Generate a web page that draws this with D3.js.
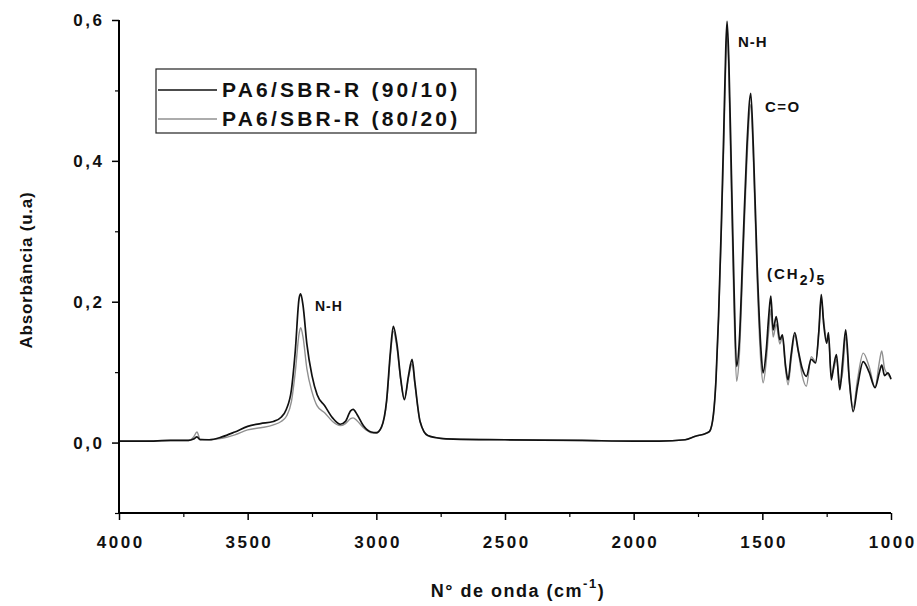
<!DOCTYPE html>
<html>
<head>
<meta charset="utf-8">
<script src="https://cdn.jsdelivr.net/npm/d3@7"></script>
<style>
  html, body { margin: 0; padding: 0; background: #fff; }
  svg text { font-family: "Liberation Sans", Arial, sans-serif; font-weight: bold; fill: #111; }
</style>
</head>
<body>
<svg id="chart" width="917" height="606"></svg>
<script>
// FTIR spectra of PA6/SBR-R blends (wavenumber in cm-1, absorbance in u.a.)
const wavenumber = [
  4000, 3900, 3800, 3730, 3710, 3697, 3685, 3650, 3600, 3550, 3500, 3450, 3400, 3370, 3350,
  3330, 3315, 3300, 3294, 3285, 3270, 3250, 3230, 3200, 3170, 3140, 3120, 3100, 3090, 3075,
  3050, 3020, 3000, 2980, 2960, 2945, 2934, 2920, 2905, 2891, 2875, 2861, 2850, 2830, 2800,
  2750, 2700, 2500, 2200, 2000, 1900, 1800, 1760, 1720, 1705, 1690, 1680, 1670, 1660, 1650,
  1642, 1637, 1630, 1620, 1610, 1600, 1590, 1575, 1560, 1545, 1535, 1520, 1505, 1497, 1485,
  1475, 1467, 1458, 1446, 1432, 1422, 1410, 1400, 1388, 1374, 1360, 1345, 1329, 1310, 1293,
  1280, 1271, 1262, 1250, 1243, 1232, 1222, 1212, 1199, 1188, 1176, 1162, 1147, 1130, 1108,
  1085, 1062, 1045, 1036, 1025, 1012, 1000
];

const absorb9010 = [
  0.002, 0.002, 0.003, 0.003, 0.005, 0.008, 0.004, 0.004, 0.008, 0.015, 0.023, 0.027, 0.030, 0.036, 0.047,
  0.075, 0.130, 0.205, 0.211, 0.195, 0.140, 0.095, 0.068, 0.052, 0.035, 0.026, 0.030, 0.045, 0.047, 0.040,
  0.024, 0.015, 0.014, 0.022, 0.060, 0.130, 0.165, 0.140, 0.090, 0.061, 0.095, 0.118, 0.085, 0.030, 0.010,
  0.006, 0.005, 0.004, 0.003, 0.002, 0.002, 0.004, 0.009, 0.013, 0.016, 0.040, 0.090, 0.180, 0.300, 0.440,
  0.560, 0.598, 0.540, 0.380, 0.220, 0.108, 0.140, 0.280, 0.420, 0.496, 0.420, 0.250, 0.130, 0.099, 0.130,
  0.180, 0.208, 0.160, 0.179, 0.146, 0.153, 0.110, 0.089, 0.125, 0.156, 0.130, 0.105, 0.094, 0.118, 0.113,
  0.160, 0.210, 0.170, 0.141, 0.156, 0.089, 0.110, 0.125, 0.075, 0.115, 0.160, 0.090, 0.044, 0.080, 0.115,
  0.100, 0.078, 0.100, 0.110, 0.095, 0.099, 0.090
];

const absorb8020 = [
  0.002, 0.002, 0.003, 0.003, 0.008, 0.015, 0.005, 0.004, 0.006, 0.011, 0.018, 0.021, 0.025, 0.030, 0.037,
  0.058, 0.100, 0.155, 0.163, 0.150, 0.105, 0.072, 0.052, 0.042, 0.030, 0.024, 0.027, 0.034, 0.035, 0.031,
  0.021, 0.014, 0.013, 0.022, 0.058, 0.125, 0.158, 0.135, 0.088, 0.062, 0.092, 0.112, 0.082, 0.030, 0.010,
  0.006, 0.005, 0.004, 0.003, 0.002, 0.002, 0.004, 0.009, 0.013, 0.016, 0.040, 0.090, 0.175, 0.290, 0.420,
  0.540, 0.585, 0.520, 0.350, 0.190, 0.087, 0.120, 0.260, 0.400, 0.480, 0.405, 0.230, 0.110, 0.085, 0.115,
  0.160, 0.189, 0.150, 0.168, 0.140, 0.150, 0.105, 0.082, 0.118, 0.152, 0.128, 0.095, 0.080, 0.122, 0.115,
  0.160, 0.205, 0.175, 0.146, 0.150, 0.095, 0.105, 0.118, 0.085, 0.100, 0.150, 0.085, 0.050, 0.090, 0.127,
  0.108, 0.078, 0.115, 0.130, 0.105, 0.097, 0.092
];

const seriesNames = ["PA6/SBR-R (90/10)", "PA6/SBR-R (80/20)"];
const seriesColors = ["#111111", "#909090"];

const xTicks = [4000, 3500, 3000, 2500, 2000, 1500, 1000];
const xMinorTicks = [3750, 3250, 2750, 2250, 1750, 1250];
const yTicks = [0.0, 0.2, 0.4, 0.6];
const yMinorTicks = [-0.1, 0.1, 0.3, 0.5];

const svg = d3.select("#chart");
const plot = { left: 119, right: 891, top: 20, bottom: 513 };

const x = d3.scaleLinear().domain([4000, 1000]).range([plot.left, plot.right]);
const y = d3.scaleLinear().domain([-0.1, 0.6]).range([plot.bottom, plot.top]);

const fmt = d => d3.format(".1f")(d).replace(".", ",");

// Spectra: 80/20 first, 90/10 on top
const series = [absorb8020, absorb9010];
const colors = [seriesColors[1], seriesColors[0]];
const widths = [1.4, 1.7];
const line = d3.line().x(d => x(d[0])).y(d => y(d[1])).curve(d3.curveMonotoneX);
series.forEach((vals, i) => {
  svg.append("path")
    .datum(wavenumber.map((w, k) => [w, vals[k]]))
    .attr("d", line)
    .attr("fill", "none")
    .attr("stroke", colors[i])
    .attr("stroke-width", widths[i])
    .attr("stroke-linejoin", "round");
});

// Axes
const xAxis = d3.axisBottom(x).tickValues(xTicks).tickFormat(d3.format("d")).tickSize(7).tickPadding(16);
const gx = svg.append("g").attr("transform", `translate(0,${plot.bottom})`).call(xAxis);
gx.select(".domain").attr("stroke-width", 2).attr("d", `M${plot.left},0H${plot.right}`);
gx.selectAll(".tick line").attr("stroke-width", 1.5);
gx.selectAll("text").attr("font-size", 17).attr("letter-spacing", 2.5)
  .attr("dx", 1.25).attr("fill", "#111");
svg.append("g").attr("transform", `translate(0,${plot.bottom})`)
  .call(d3.axisBottom(x).tickValues(xMinorTicks).tickFormat("").tickSize(4))
  .call(g => g.select(".domain").remove())
  .selectAll(".tick line").attr("stroke-width", 1.2);

const yAxis = d3.axisLeft(y).tickValues(yTicks).tickFormat(fmt).tickSize(7).tickPadding(10);
const gy = svg.append("g").attr("transform", `translate(${plot.left},0)`).call(yAxis);
gy.select(".domain").attr("stroke-width", 2).attr("d", `M0,${plot.top}V${plot.bottom}`);
gy.selectAll(".tick line").attr("stroke-width", 1.5);
gy.selectAll("text").attr("font-size", 17).attr("letter-spacing", 2.5)
  .attr("dx", 2.5).attr("fill", "#111");
svg.append("g").attr("transform", `translate(${plot.left},0)`)
  .call(d3.axisLeft(y).tickValues(yMinorTicks).tickFormat("").tickSize(4))
  .call(g => g.select(".domain").remove())
  .selectAll(".tick line").attr("stroke-width", 1.2);

// Axis titles
const xt = svg.append("text").attr("x", 518).attr("y", 597)
  .attr("text-anchor", "middle").attr("font-size", 18).attr("letter-spacing", 1.5);
xt.append("tspan").text("N° de onda (cm");
xt.append("tspan").attr("dy", -9).attr("font-size", 13).text("-1");
xt.append("tspan").attr("dy", 9).text(")");

svg.append("text")
  .attr("transform", `translate(32,270) rotate(-90)`)
  .attr("text-anchor", "middle").attr("font-size", 17).attr("letter-spacing", 0.8)
  .text("Absorbância (u.a)");

// Peak annotations
svg.append("text").attr("x", 315).attr("y", 311).attr("font-size", 14).attr("letter-spacing", 1).text("N-H");
svg.append("text").attr("x", 738).attr("y", 47).attr("font-size", 15).attr("letter-spacing", 1).text("N-H");
svg.append("text").attr("x", 765).attr("y", 112).attr("font-size", 15).attr("letter-spacing", 1.5).text("C=O");
const ch = svg.append("text").attr("x", 767).attr("y", 279).attr("font-size", 15).attr("letter-spacing", 2);
ch.append("tspan").text("(CH");
ch.append("tspan").attr("dy", 6).attr("font-size", 14).text("2");
ch.append("tspan").attr("dy", -6).text(")");
ch.append("tspan").attr("dy", 6).attr("font-size", 14).text("5");

// Legend
const lg = svg.append("g").attr("transform", "translate(156,69)");
lg.append("rect").attr("width", 320).attr("height", 64)
  .attr("fill", "#fff").attr("stroke", "#222").attr("stroke-width", 1.2);
seriesNames.forEach((name, i) => {
  const yy = 21 + i * 29;
  lg.append("line").attr("x1", 2).attr("x2", 61).attr("y1", yy).attr("y2", yy)
    .attr("stroke", seriesColors[i]).attr("stroke-width", i === 0 ? 1.7 : 1.4);
  lg.append("text").attr("x", 66).attr("y", yy + 7).attr("font-size", 21)
    .attr("letter-spacing", 3.2).text(name);
});
</script>
</body>
</html>
